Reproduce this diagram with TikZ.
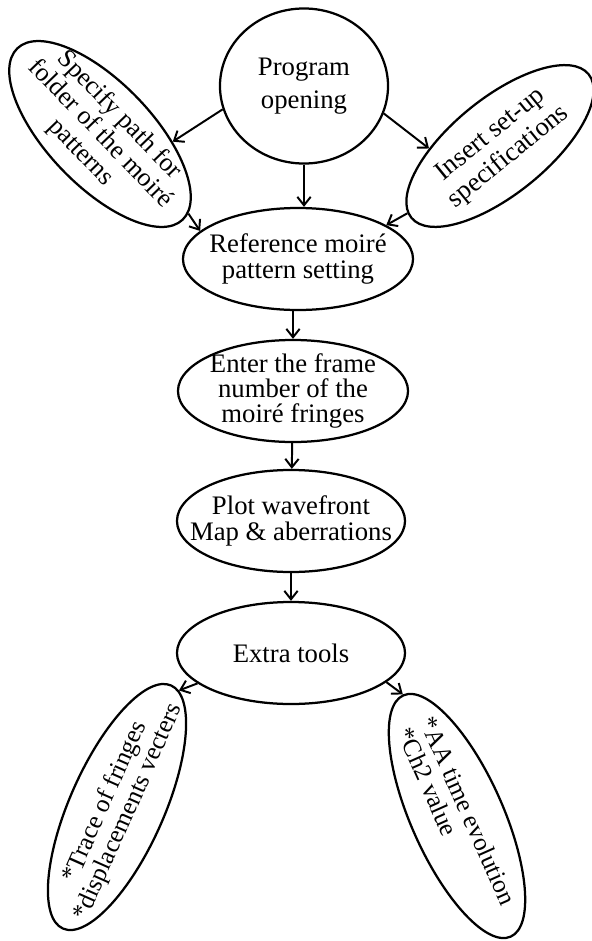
\documentclass[tikz,border=0pt]{standalone}
\usepackage{fontspec}
\setmainfont{Liberation Serif}
\usetikzlibrary{shapes.geometric,arrows.meta}
\begin{document}
\begin{tikzpicture}[x=0.025cm,y=-0.025cm]
    \tikzstyle{every node}+=[inner sep=-20pt]
    \tikzstyle{bubble}=[draw=black, ellipse, line width=1.6pt, align=center, font=\fontsize{19}{18}\selectfont]
    \tikzstyle{flow}=[black, line width=1.4pt, -{Straight Barb[length=6pt,width=9.5pt]}]
    \useasboundingbox (0,0) rectangle (592,941);
    \node [bubble, minimum width=4.2cm, minimum height=3.875cm, font=\fontsize{19}{23.5}\selectfont] (prog) at (304,86) {Program\\opening};
    \node [bubble, minimum width=5.95cm, minimum height=2.6cm, rotate=-46, font=\fontsize{18.5}{19}\selectfont] (spec) at (100,134) {Specify path for\\folder of the moiré\\patterns};
    \node [bubble, minimum width=5.7cm, minimum height=2.4cm, rotate=39, font=\fontsize{19}{20.5}\selectfont] (ins) at (500,146) {Insert set-up\\specifications};
    \node [bubble, minimum width=5.75cm, minimum height=2.55cm] (ref) at (298,259) {Reference moiré\\pattern setting};
    \node [bubble, minimum width=5.75cm, minimum height=2.55cm] (enter) at (293,391) {Enter the frame\\number of the\\moiré fringes};
    \node [bubble, minimum width=5.7cm, minimum height=2.55cm] (plot) at (291,521) {Plot wavefront\\Map \& aberrations};
    \node [bubble, minimum width=5.7cm, minimum height=2.55cm] (extra) at (291,653) {Extra tools};
    \node [bubble, minimum width=6.65cm, minimum height=2.35cm, rotate=66, font=\fontsize{18}{18}\selectfont] (trace) at (117,807) {*Trace of fringes\\*displacements vecters};
    \node [bubble, minimum width=6.6cm, minimum height=2.3cm, rotate=-66, align=left, font=\fontsize{18}{18}\selectfont] (aa) at (457,816) {*AA time evolution\\*Ch2 value};
    \draw [flow] (prog.196) -- (spec.40);
    \draw [flow] (spec.4) -- (ref.164);
    \draw [flow] (prog.south) -- (ref.north -| prog.south);
    \draw [flow] (prog.-19) -- (ins.143);
    \draw [flow] (ins.177) -- (ref.21);
    \draw [flow] (ref.south -| enter.north) -- (enter.north);
    \draw [flow] (enter) -- (plot);
    \draw [flow] (plot) -- (extra);
    \draw [flow] (extra.198) -- (trace.-4);
    \draw [flow] (extra.-17) -- (aa.west);
\end{tikzpicture}
\end{document}
